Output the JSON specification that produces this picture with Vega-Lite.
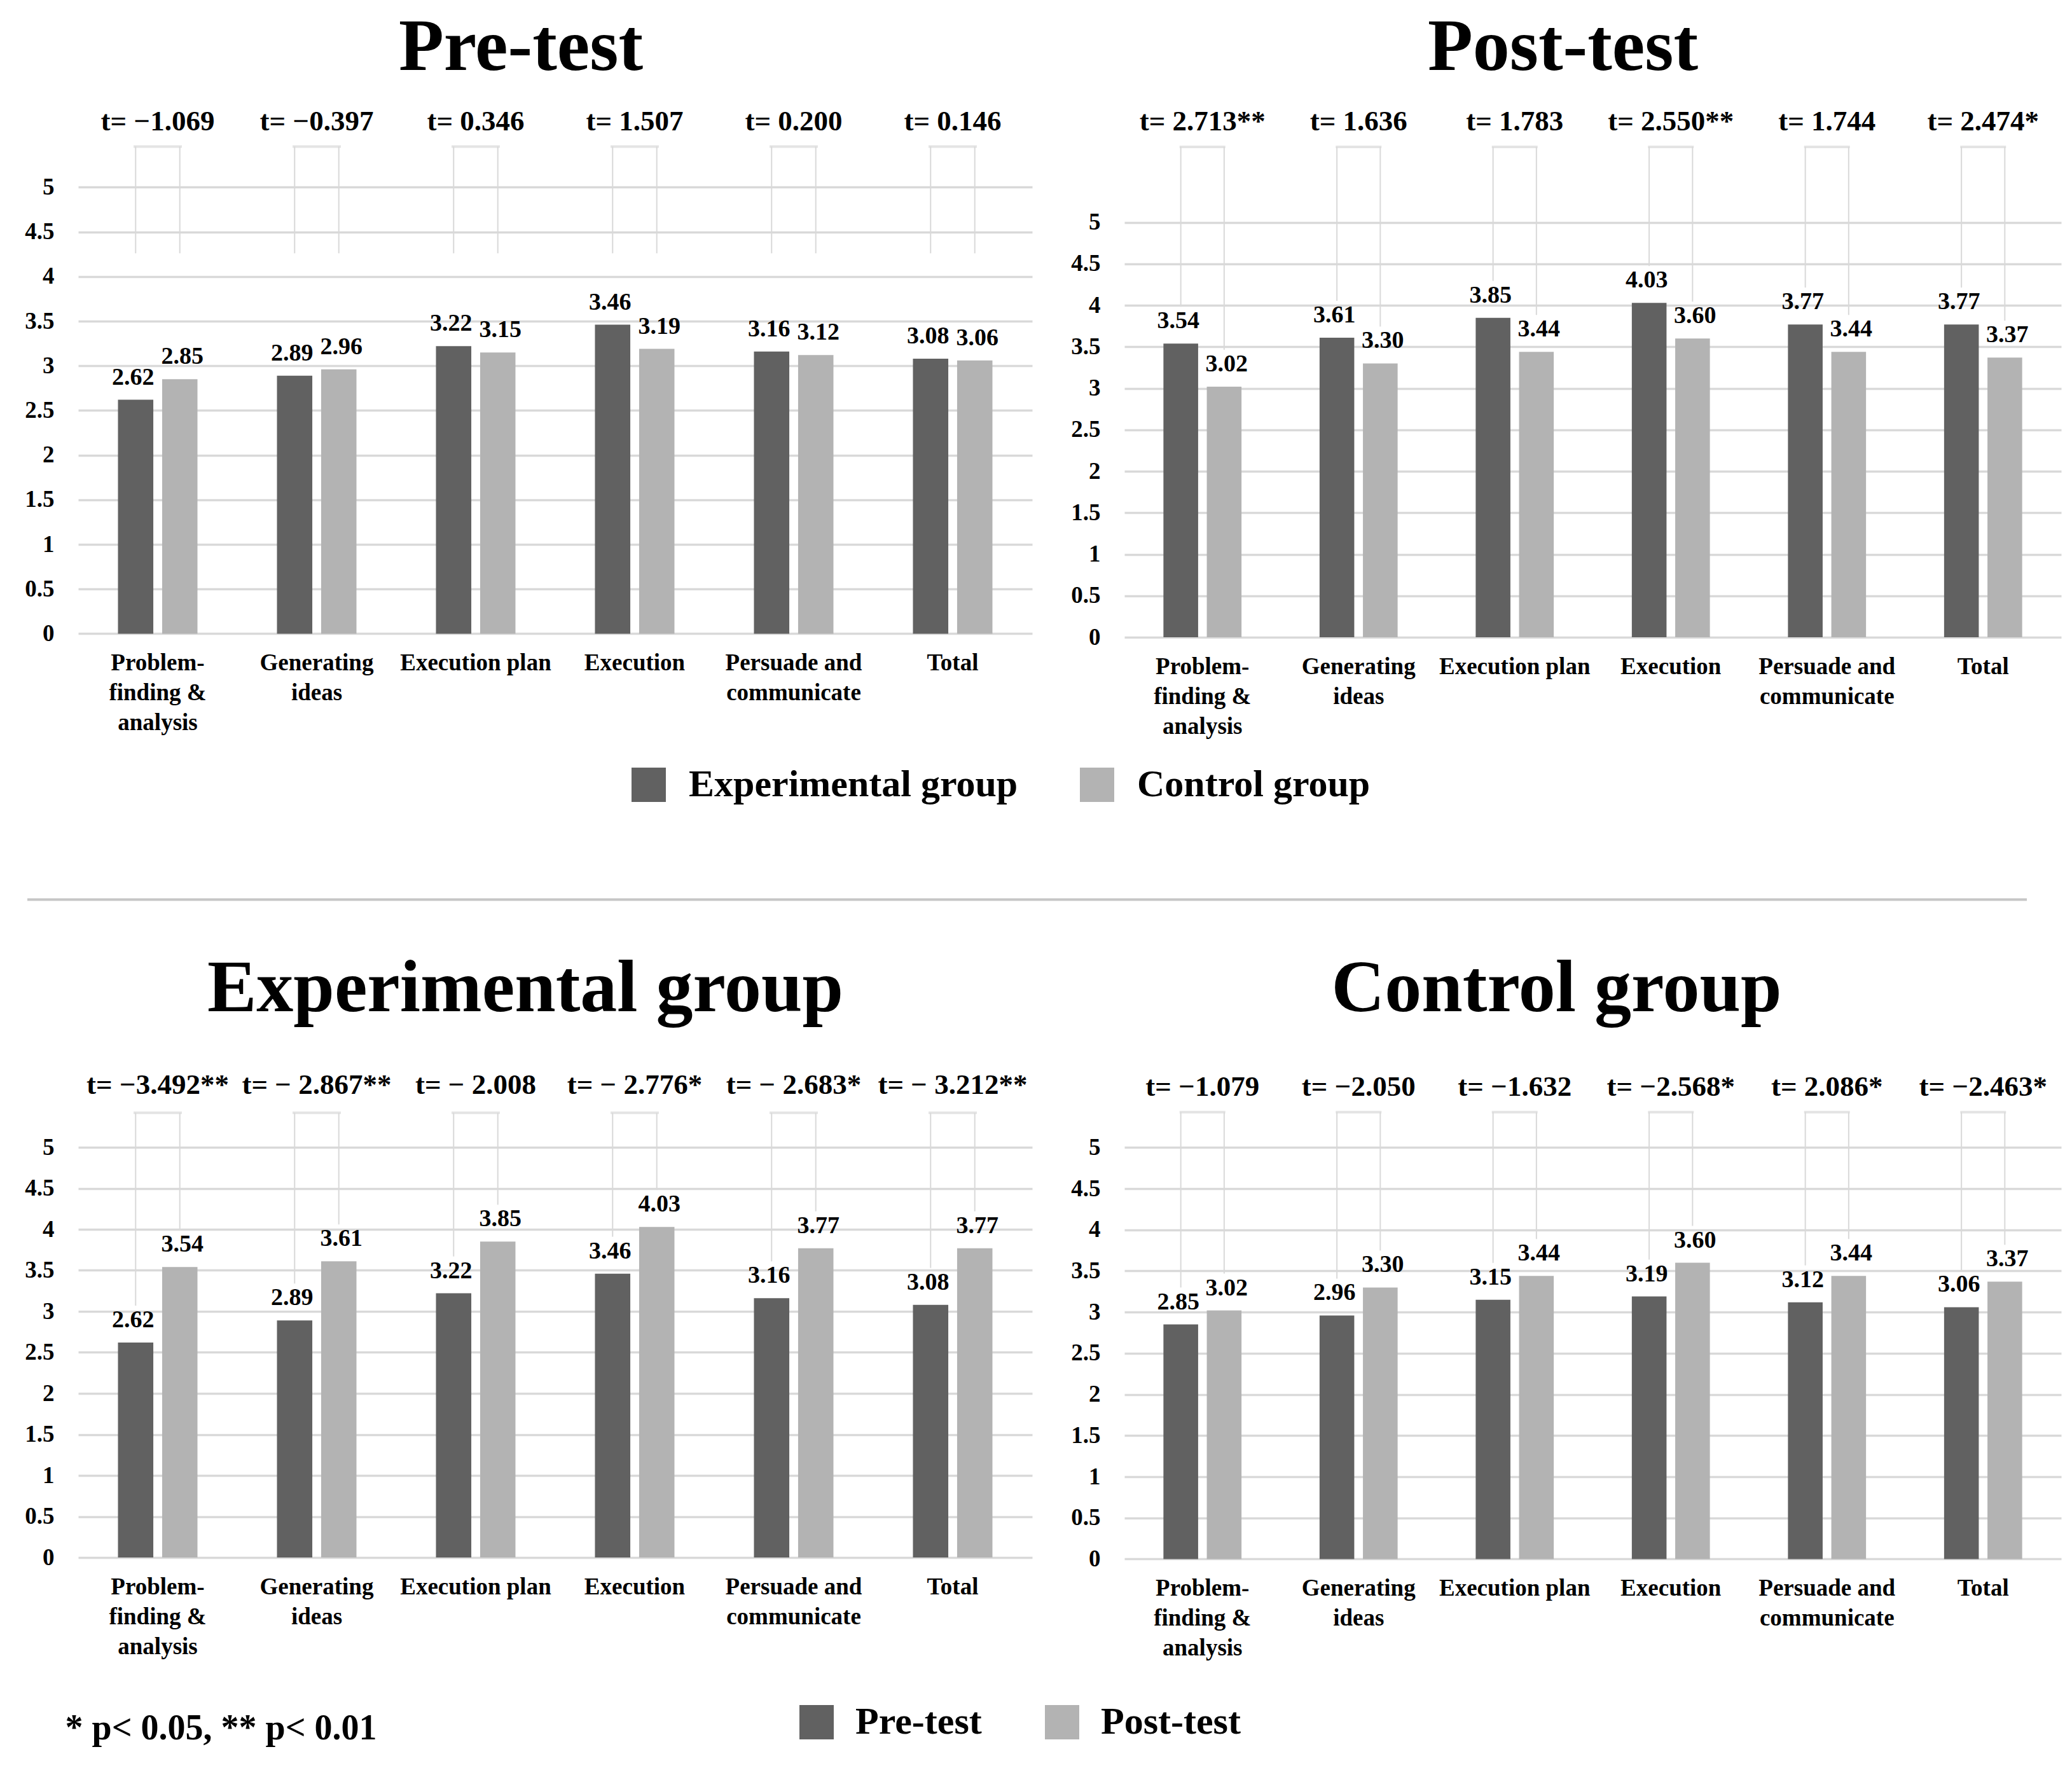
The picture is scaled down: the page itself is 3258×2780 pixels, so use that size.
{
  "$schema": "https://vega.github.io/schema/vega-lite/v6.json",
  "background": "white",
  "autosize": {"type": "pad"},
  "padding": {"left": 38, "top": 17, "right": 10, "bottom": 10},
  "config": {
    "view": {"stroke": null},
    "font": "Liberation Serif",
    "text": {"font": "Liberation Serif", "color": "black"},
    "title": {"font": "Liberation Serif", "fontSize": 116, "fontWeight": "bold", "baseline": "alphabetic", "color": "black", "anchor": "middle"}
  },
  "datasets": {
    "scores": [
      {"panel": "pre", "category": "Problem-finding & analysis", "group": "Experimental group", "value": 2.62},
      {"panel": "pre", "category": "Generating ideas", "group": "Experimental group", "value": 2.89},
      {"panel": "pre", "category": "Execution plan", "group": "Experimental group", "value": 3.22},
      {"panel": "pre", "category": "Execution", "group": "Experimental group", "value": 3.46},
      {"panel": "pre", "category": "Persuade and communicate", "group": "Experimental group", "value": 3.16},
      {"panel": "pre", "category": "Total", "group": "Experimental group", "value": 3.08},
      {"panel": "pre", "category": "Problem-finding & analysis", "group": "Control group", "value": 2.85},
      {"panel": "pre", "category": "Generating ideas", "group": "Control group", "value": 2.96},
      {"panel": "pre", "category": "Execution plan", "group": "Control group", "value": 3.15},
      {"panel": "pre", "category": "Execution", "group": "Control group", "value": 3.19},
      {"panel": "pre", "category": "Persuade and communicate", "group": "Control group", "value": 3.12},
      {"panel": "pre", "category": "Total", "group": "Control group", "value": 3.06},
      {"panel": "post", "category": "Problem-finding & analysis", "group": "Experimental group", "value": 3.54},
      {"panel": "post", "category": "Generating ideas", "group": "Experimental group", "value": 3.61},
      {"panel": "post", "category": "Execution plan", "group": "Experimental group", "value": 3.85},
      {"panel": "post", "category": "Execution", "group": "Experimental group", "value": 4.03},
      {"panel": "post", "category": "Persuade and communicate", "group": "Experimental group", "value": 3.77},
      {"panel": "post", "category": "Total", "group": "Experimental group", "value": 3.77},
      {"panel": "post", "category": "Problem-finding & analysis", "group": "Control group", "value": 3.02},
      {"panel": "post", "category": "Generating ideas", "group": "Control group", "value": 3.30},
      {"panel": "post", "category": "Execution plan", "group": "Control group", "value": 3.44},
      {"panel": "post", "category": "Execution", "group": "Control group", "value": 3.60},
      {"panel": "post", "category": "Persuade and communicate", "group": "Control group", "value": 3.44},
      {"panel": "post", "category": "Total", "group": "Control group", "value": 3.37},
      {"panel": "exp", "category": "Problem-finding & analysis", "group": "Pre-test", "value": 2.62},
      {"panel": "exp", "category": "Generating ideas", "group": "Pre-test", "value": 2.89},
      {"panel": "exp", "category": "Execution plan", "group": "Pre-test", "value": 3.22},
      {"panel": "exp", "category": "Execution", "group": "Pre-test", "value": 3.46},
      {"panel": "exp", "category": "Persuade and communicate", "group": "Pre-test", "value": 3.16},
      {"panel": "exp", "category": "Total", "group": "Pre-test", "value": 3.08},
      {"panel": "exp", "category": "Problem-finding & analysis", "group": "Post-test", "value": 3.54},
      {"panel": "exp", "category": "Generating ideas", "group": "Post-test", "value": 3.61},
      {"panel": "exp", "category": "Execution plan", "group": "Post-test", "value": 3.85},
      {"panel": "exp", "category": "Execution", "group": "Post-test", "value": 4.03},
      {"panel": "exp", "category": "Persuade and communicate", "group": "Post-test", "value": 3.77},
      {"panel": "exp", "category": "Total", "group": "Post-test", "value": 3.77},
      {"panel": "ctrl", "category": "Problem-finding & analysis", "group": "Pre-test", "value": 2.85},
      {"panel": "ctrl", "category": "Generating ideas", "group": "Pre-test", "value": 2.96},
      {"panel": "ctrl", "category": "Execution plan", "group": "Pre-test", "value": 3.15},
      {"panel": "ctrl", "category": "Execution", "group": "Pre-test", "value": 3.19},
      {"panel": "ctrl", "category": "Persuade and communicate", "group": "Pre-test", "value": 3.12},
      {"panel": "ctrl", "category": "Total", "group": "Pre-test", "value": 3.06},
      {"panel": "ctrl", "category": "Problem-finding & analysis", "group": "Post-test", "value": 3.02},
      {"panel": "ctrl", "category": "Generating ideas", "group": "Post-test", "value": 3.30},
      {"panel": "ctrl", "category": "Execution plan", "group": "Post-test", "value": 3.44},
      {"panel": "ctrl", "category": "Execution", "group": "Post-test", "value": 3.60},
      {"panel": "ctrl", "category": "Persuade and communicate", "group": "Post-test", "value": 3.44},
      {"panel": "ctrl", "category": "Total", "group": "Post-test", "value": 3.37}
    ],
    "tstats": [
      {"panel": "pre", "category": "Problem-finding & analysis", "t": "t= −1.069"},
      {"panel": "pre", "category": "Generating ideas", "t": "t= −0.397"},
      {"panel": "pre", "category": "Execution plan", "t": "t= 0.346"},
      {"panel": "pre", "category": "Execution", "t": "t= 1.507"},
      {"panel": "pre", "category": "Persuade and communicate", "t": "t= 0.200"},
      {"panel": "pre", "category": "Total", "t": "t= 0.146"},
      {"panel": "post", "category": "Problem-finding & analysis", "t": "t= 2.713**"},
      {"panel": "post", "category": "Generating ideas", "t": "t= 1.636"},
      {"panel": "post", "category": "Execution plan", "t": "t= 1.783"},
      {"panel": "post", "category": "Execution", "t": "t= 2.550**"},
      {"panel": "post", "category": "Persuade and communicate", "t": "t= 1.744"},
      {"panel": "post", "category": "Total", "t": "t= 2.474*"},
      {"panel": "exp", "category": "Problem-finding & analysis", "t": "t= −3.492**"},
      {"panel": "exp", "category": "Generating ideas", "t": "t= − 2.867**"},
      {"panel": "exp", "category": "Execution plan", "t": "t= − 2.008"},
      {"panel": "exp", "category": "Execution", "t": "t= − 2.776*"},
      {"panel": "exp", "category": "Persuade and communicate", "t": "t= − 2.683*"},
      {"panel": "exp", "category": "Total", "t": "t= − 3.212**"},
      {"panel": "ctrl", "category": "Problem-finding & analysis", "t": "t= −1.079"},
      {"panel": "ctrl", "category": "Generating ideas", "t": "t= −2.050"},
      {"panel": "ctrl", "category": "Execution plan", "t": "t= −1.632"},
      {"panel": "ctrl", "category": "Execution", "t": "t= −2.568*"},
      {"panel": "ctrl", "category": "Persuade and communicate", "t": "t= 2.086*"},
      {"panel": "ctrl", "category": "Total", "t": "t= −2.463*"}
    ]
  },
  "bounds": "flush",
  "columns": 2,
  "spacing": {"row": 260, "column": 145},
  "resolve": {"scale": {"x": "independent", "y": "independent", "xOffset": "independent", "color": "independent"}, "axis": {"x": "independent", "y": "independent"}, "legend": {"color": "independent"}},
  "concat": [
    {
      "width": 1500,
      "height": 842.4,
      "title": {"text": "Pre-test", "dx": -54, "offset": 20},
      "encoding": {
        "x": {"field": "category", "type": "nominal", "sort": ["Problem-finding & analysis", "Generating ideas", "Execution plan", "Execution", "Persuade and communicate", "Total"], "scale": {"paddingInner": 0.5, "paddingOuter": 0.25},
          "axis": {"title": null, "domain": false, "ticks": false, "labelAngle": 0, "labelFontSize": 37, "labelFontWeight": "bold", "labelLineHeight": 47, "labelPadding": 28, "labelColor": "black", "labelLimit": 0, "labelFont": "Liberation Serif",
            "labelExpr": "datum.value == 'Problem-finding & analysis' ? ['Problem-', 'finding &', 'analysis'] : datum.value == 'Generating ideas' ? ['Generating', 'ideas'] : datum.value == 'Persuade and communicate' ? ['Persuade and', 'communicate'] : datum.value"}},
        "xOffset": {"field": "group", "type": "nominal", "scale": {"domain": ["Experimental group", "Control group"], "paddingInner": 0.2, "paddingOuter": 0}}
      },
      "layer": [
        {
          "data": {"name": "scores"},
          "transform": [{"filter": "datum.panel == 'pre'"}],
          "mark": {"type": "bar"},
          "encoding": {
            "y": {"field": "value", "type": "quantitative", "scale": {"domain": [0, 6], "nice": false},
              "axis": {"title": null, "values": [0, 0.5, 1, 1.5, 2, 2.5, 3, 3.5, 4, 4.5, 5], "labelExpr": "'' + datum.value", "grid": true, "gridColor": "#d9d9d9", "gridWidth": 3.5, "domain": false, "ticks": false, "labelFontSize": 37, "labelFontWeight": "bold", "labelPadding": 38, "labelColor": "black", "labelFont": "Liberation Serif"}},
            "color": {"field": "group", "type": "nominal", "scale": {"domain": ["Experimental group", "Control group"], "range": ["#616161", "#b3b3b3"]},
              "legend": {"orient": "none", "legendX": 867, "legendY": 1050, "direction": "horizontal", "title": null, "symbolType": "square", "symbolSize": 2916, "symbolStrokeWidth": 0, "symbolOpacity": 1, "labelFontSize": 60, "labelFont": "Liberation Serif", "labelFontWeight": "bold", "labelColor": "black", "labelOffset": 33, "columnPadding": 94, "padding": 0, "labelLimit": 0}}
          }
        },
        {
          "data": {"name": "scores"},
          "transform": [{"filter": "datum.panel == 'pre'"}],
          "mark": {"type": "rule", "color": "#d9d9d9", "strokeWidth": 2},
          "encoding": {
            "y": {"datum": 4.26, "type": "quantitative"},
            "y2": {"datum": 5.456}
          }
        },
        {
          "data": {"name": "tstats"},
          "transform": [{"filter": "datum.panel == 'pre'"}],
          "mark": {"type": "tick", "color": "#d9d9d9", "thickness": 4, "size": 76},
          "encoding": {"xOffset": null, "y": {"datum": 5.456, "type": "quantitative"}}
        },
        {
          "data": {"name": "scores"},
          "transform": [{"filter": "datum.panel == 'pre' && datum.group == 'Experimental group'"}],
          "mark": {"type": "text", "baseline": "alphabetic", "dy": -24, "dx": -4, "fontSize": 38, "fontWeight": "bold"},
          "encoding": {
            "y": {"field": "value", "type": "quantitative"},
            "text": {"field": "value", "type": "quantitative", "format": ".2f"}
          }
        },
        {
          "data": {"name": "scores"},
          "transform": [{"filter": "datum.panel == 'pre' && datum.group == 'Control group'"}],
          "mark": {"type": "text", "baseline": "alphabetic", "dy": -24, "dx": 4, "fontSize": 38, "fontWeight": "bold"},
          "encoding": {
            "y": {"field": "value", "type": "quantitative"},
            "text": {"field": "value", "type": "quantitative", "format": ".2f"}
          }
        },
        {
          "data": {"name": "tstats"},
          "transform": [{"filter": "datum.panel == 'pre'"}],
          "mark": {"type": "text", "baseline": "alphabetic", "fontSize": 45, "fontWeight": "bold"},
          "encoding": {"xOffset": null, "y": {"datum": 5.64, "type": "quantitative"}, "text": {"field": "t", "type": "nominal"}}
        }
      ]
    },
    {
      "width": 1473,
      "height": 848,
      "title": {"text": "Post-test", "dx": -47, "offset": 20},
      "encoding": {
        "x": {"field": "category", "type": "nominal", "sort": ["Problem-finding & analysis", "Generating ideas", "Execution plan", "Execution", "Persuade and communicate", "Total"], "scale": {"paddingInner": 0.5, "paddingOuter": 0.25},
          "axis": {"title": null, "domain": false, "ticks": false, "labelAngle": 0, "labelFontSize": 37, "labelFontWeight": "bold", "labelLineHeight": 47, "labelPadding": 28, "labelColor": "black", "labelLimit": 0, "labelFont": "Liberation Serif",
            "labelExpr": "datum.value == 'Problem-finding & analysis' ? ['Problem-', 'finding &', 'analysis'] : datum.value == 'Generating ideas' ? ['Generating', 'ideas'] : datum.value == 'Persuade and communicate' ? ['Persuade and', 'communicate'] : datum.value"}},
        "xOffset": {"field": "group", "type": "nominal", "scale": {"domain": ["Experimental group", "Control group"], "paddingInner": 0.2, "paddingOuter": 0}}
      },
      "layer": [
        {
          "data": {"name": "scores"},
          "transform": [{"filter": "datum.panel == 'post'"}],
          "mark": {"type": "bar"},
          "encoding": {
            "y": {"field": "value", "type": "quantitative", "scale": {"domain": [0, 6.5], "nice": false},
              "axis": {"title": null, "values": [0, 0.5, 1, 1.5, 2, 2.5, 3, 3.5, 4, 4.5, 5], "labelExpr": "'' + datum.value", "grid": true, "gridColor": "#d9d9d9", "gridWidth": 3.5, "domain": false, "ticks": false, "labelFontSize": 37, "labelFontWeight": "bold", "labelPadding": 38, "labelColor": "black", "labelFont": "Liberation Serif"}},
            "color": {"field": "group", "type": "nominal", "scale": {"domain": ["Experimental group", "Control group"], "range": ["#616161", "#b3b3b3"]}, "legend": null}
          }
        },
        {
          "data": {"name": "scores"},
          "transform": [{"filter": "datum.panel == 'post'"}],
          "mark": {"type": "rule", "color": "#d9d9d9", "strokeWidth": 2, "yOffset": -58},
          "encoding": {
            "y": {"field": "value", "type": "quantitative"},
            "y2": {"datum": 5.91}
          }
        },
        {
          "data": {"name": "tstats"},
          "transform": [{"filter": "datum.panel == 'post'"}],
          "mark": {"type": "tick", "color": "#d9d9d9", "thickness": 4, "size": 72},
          "encoding": {"xOffset": null, "y": {"datum": 5.91, "type": "quantitative"}}
        },
        {
          "data": {"name": "scores"},
          "transform": [{"filter": "datum.panel == 'post' && datum.group == 'Experimental group'"}],
          "mark": {"type": "text", "baseline": "alphabetic", "dy": -24, "dx": -4, "fontSize": 38, "fontWeight": "bold"},
          "encoding": {
            "y": {"field": "value", "type": "quantitative"},
            "text": {"field": "value", "type": "quantitative", "format": ".2f"}
          }
        },
        {
          "data": {"name": "scores"},
          "transform": [{"filter": "datum.panel == 'post' && datum.group == 'Control group'"}],
          "mark": {"type": "text", "baseline": "alphabetic", "dy": -24, "dx": 4, "fontSize": 38, "fontWeight": "bold"},
          "encoding": {
            "y": {"field": "value", "type": "quantitative"},
            "text": {"field": "value", "type": "quantitative", "format": ".2f"}
          }
        },
        {
          "data": {"name": "tstats"},
          "transform": [{"filter": "datum.panel == 'post'"}],
          "mark": {"type": "text", "baseline": "alphabetic", "fontSize": 45, "fontWeight": "bold"},
          "encoding": {"xOffset": null, "y": {"datum": 6.11, "type": "quantitative"}, "text": {"field": "t", "type": "nominal"}}
        }
      ]
    },
    {
      "width": 1500,
      "height": 152.4,
      "data": {"values": [{}]},
      "mark": {"type": "rule", "color": "#c6c6c6", "strokeWidth": 4},
      "encoding": {
        "x": {"datum": 0, "type": "quantitative", "scale": {"domain": [0, 1], "range": [-80, 1645]}, "axis": null},
        "x2": {"datum": 1},
        "y": {"datum": 0, "type": "quantitative", "scale": {"domain": [0, 1]}, "axis": null}
      }
    },
    {
      "width": 1473,
      "height": 152.4,
      "data": {"values": [{}]},
      "mark": {"type": "rule", "color": "#c6c6c6", "strokeWidth": 4},
      "encoding": {
        "x": {"datum": 0, "type": "quantitative", "scale": {"domain": [0, 1], "range": [0, 1419]}, "axis": null},
        "x2": {"datum": 1},
        "y": {"datum": 0, "type": "quantitative", "scale": {"domain": [0, 1]}, "axis": null}
      }
    },
    {
      "width": 1500,
      "height": 774,
      "title": {"text": "Experimental group", "dx": -47, "offset": 61},
      "encoding": {
        "x": {"field": "category", "type": "nominal", "sort": ["Problem-finding & analysis", "Generating ideas", "Execution plan", "Execution", "Persuade and communicate", "Total"], "scale": {"paddingInner": 0.5, "paddingOuter": 0.25},
          "axis": {"title": "* p< 0.05, ** p< 0.01", "titleX": -21, "titleY": 285, "titleAnchor": "start", "titleAlign": "left", "titleBaseline": "alphabetic", "titleFontSize": 56, "titleFontWeight": "bold", "titleFont": "Liberation Serif", "titleColor": "black",
            "domain": false, "ticks": false, "labelAngle": 0, "labelFontSize": 37, "labelFontWeight": "bold", "labelLineHeight": 47, "labelPadding": 28, "labelColor": "black", "labelLimit": 0, "labelFont": "Liberation Serif",
            "labelExpr": "datum.value == 'Problem-finding & analysis' ? ['Problem-', 'finding &', 'analysis'] : datum.value == 'Generating ideas' ? ['Generating', 'ideas'] : datum.value == 'Persuade and communicate' ? ['Persuade and', 'communicate'] : datum.value"}},
        "xOffset": {"field": "group", "type": "nominal", "scale": {"domain": ["Pre-test", "Post-test"], "paddingInner": 0.2, "paddingOuter": 0}}
      },
      "layer": [
        {
          "data": {"name": "scores"},
          "transform": [{"filter": "datum.panel == 'exp'"}],
          "mark": {"type": "bar"},
          "encoding": {
            "y": {"field": "value", "type": "quantitative", "scale": {"domain": [0, 6], "nice": false},
              "axis": {"title": null, "values": [0, 0.5, 1, 1.5, 2, 2.5, 3, 3.5, 4, 4.5, 5], "labelExpr": "'' + datum.value", "grid": true, "gridColor": "#d9d9d9", "gridWidth": 3.5, "domain": false, "ticks": false, "labelFontSize": 37, "labelFontWeight": "bold", "labelPadding": 38, "labelColor": "black", "labelFont": "Liberation Serif"}},
            "color": {"field": "group", "type": "nominal", "scale": {"domain": ["Pre-test", "Post-test"], "range": ["#616161", "#b3b3b3"]},
              "legend": {"orient": "none", "legendX": 1131, "legendY": 1003, "direction": "horizontal", "title": null, "symbolType": "square", "symbolSize": 2916, "symbolStrokeWidth": 0, "symbolOpacity": 1, "labelFontSize": 60, "labelFont": "Liberation Serif", "labelFontWeight": "bold", "labelColor": "black", "labelOffset": 31, "columnPadding": 96, "padding": 0, "labelLimit": 0}}
          }
        },
        {
          "data": {"name": "scores"},
          "transform": [{"filter": "datum.panel == 'exp'"}],
          "mark": {"type": "rule", "color": "#d9d9d9", "strokeWidth": 2, "yOffset": -58},
          "encoding": {
            "y": {"field": "value", "type": "quantitative"},
            "y2": {"datum": 5.42}
          }
        },
        {
          "data": {"name": "tstats"},
          "transform": [{"filter": "datum.panel == 'exp'"}],
          "mark": {"type": "tick", "color": "#d9d9d9", "thickness": 4, "size": 76},
          "encoding": {"xOffset": null, "y": {"datum": 5.42, "type": "quantitative"}}
        },
        {
          "data": {"name": "scores"},
          "transform": [{"filter": "datum.panel == 'exp' && datum.group == 'Pre-test'"}],
          "mark": {"type": "text", "baseline": "alphabetic", "dy": -24, "dx": -4, "fontSize": 38, "fontWeight": "bold"},
          "encoding": {
            "y": {"field": "value", "type": "quantitative"},
            "text": {"field": "value", "type": "quantitative", "format": ".2f"}
          }
        },
        {
          "data": {"name": "scores"},
          "transform": [{"filter": "datum.panel == 'exp' && datum.group == 'Post-test'"}],
          "mark": {"type": "text", "baseline": "alphabetic", "dy": -24, "dx": 4, "fontSize": 38, "fontWeight": "bold"},
          "encoding": {
            "y": {"field": "value", "type": "quantitative"},
            "text": {"field": "value", "type": "quantitative", "format": ".2f"}
          }
        },
        {
          "data": {"name": "tstats"},
          "transform": [{"filter": "datum.panel == 'exp'"}],
          "mark": {"type": "text", "baseline": "alphabetic", "fontSize": 45, "fontWeight": "bold"},
          "encoding": {"xOffset": null, "y": {"datum": 5.65, "type": "quantitative"}, "text": {"field": "t", "type": "nominal"}}
        }
      ]
    },
    {
      "width": 1473,
      "height": 776.4,
      "title": {"text": "Control group", "dx": -57, "offset": 61},
      "encoding": {
        "x": {"field": "category", "type": "nominal", "sort": ["Problem-finding & analysis", "Generating ideas", "Execution plan", "Execution", "Persuade and communicate", "Total"], "scale": {"paddingInner": 0.5, "paddingOuter": 0.25},
          "axis": {"title": null, "domain": false, "ticks": false, "labelAngle": 0, "labelFontSize": 37, "labelFontWeight": "bold", "labelLineHeight": 47, "labelPadding": 28, "labelColor": "black", "labelLimit": 0, "labelFont": "Liberation Serif",
            "labelExpr": "datum.value == 'Problem-finding & analysis' ? ['Problem-', 'finding &', 'analysis'] : datum.value == 'Generating ideas' ? ['Generating', 'ideas'] : datum.value == 'Persuade and communicate' ? ['Persuade and', 'communicate'] : datum.value"}},
        "xOffset": {"field": "group", "type": "nominal", "scale": {"domain": ["Pre-test", "Post-test"], "paddingInner": 0.2, "paddingOuter": 0}}
      },
      "layer": [
        {
          "data": {"name": "scores"},
          "transform": [{"filter": "datum.panel == 'ctrl'"}],
          "mark": {"type": "bar"},
          "encoding": {
            "y": {"field": "value", "type": "quantitative", "scale": {"domain": [0, 6], "nice": false},
              "axis": {"title": null, "values": [0, 0.5, 1, 1.5, 2, 2.5, 3, 3.5, 4, 4.5, 5], "labelExpr": "'' + datum.value", "grid": true, "gridColor": "#d9d9d9", "gridWidth": 3.5, "domain": false, "ticks": false, "labelFontSize": 37, "labelFontWeight": "bold", "labelPadding": 38, "labelColor": "black", "labelFont": "Liberation Serif"}},
            "color": {"field": "group", "type": "nominal", "scale": {"domain": ["Pre-test", "Post-test"], "range": ["#616161", "#b3b3b3"]}, "legend": null}
          }
        },
        {
          "data": {"name": "scores"},
          "transform": [{"filter": "datum.panel == 'ctrl'"}],
          "mark": {"type": "rule", "color": "#d9d9d9", "strokeWidth": 2, "yOffset": -58},
          "encoding": {
            "y": {"field": "value", "type": "quantitative"},
            "y2": {"datum": 5.43}
          }
        },
        {
          "data": {"name": "tstats"},
          "transform": [{"filter": "datum.panel == 'ctrl'"}],
          "mark": {"type": "tick", "color": "#d9d9d9", "thickness": 4, "size": 72},
          "encoding": {"xOffset": null, "y": {"datum": 5.43, "type": "quantitative"}}
        },
        {
          "data": {"name": "scores"},
          "transform": [{"filter": "datum.panel == 'ctrl' && datum.group == 'Pre-test'"}],
          "mark": {"type": "text", "baseline": "alphabetic", "dy": -24, "dx": -4, "fontSize": 38, "fontWeight": "bold"},
          "encoding": {
            "y": {"field": "value", "type": "quantitative"},
            "text": {"field": "value", "type": "quantitative", "format": ".2f"}
          }
        },
        {
          "data": {"name": "scores"},
          "transform": [{"filter": "datum.panel == 'ctrl' && datum.group == 'Post-test'"}],
          "mark": {"type": "text", "baseline": "alphabetic", "dy": -24, "dx": 4, "fontSize": 38, "fontWeight": "bold"},
          "encoding": {
            "y": {"field": "value", "type": "quantitative"},
            "text": {"field": "value", "type": "quantitative", "format": ".2f"}
          }
        },
        {
          "data": {"name": "tstats"},
          "transform": [{"filter": "datum.panel == 'ctrl'"}],
          "mark": {"type": "text", "baseline": "alphabetic", "fontSize": 45, "fontWeight": "bold"},
          "encoding": {"xOffset": null, "y": {"datum": 5.63, "type": "quantitative"}, "text": {"field": "t", "type": "nominal"}}
        }
      ]
    }
  ]
}
